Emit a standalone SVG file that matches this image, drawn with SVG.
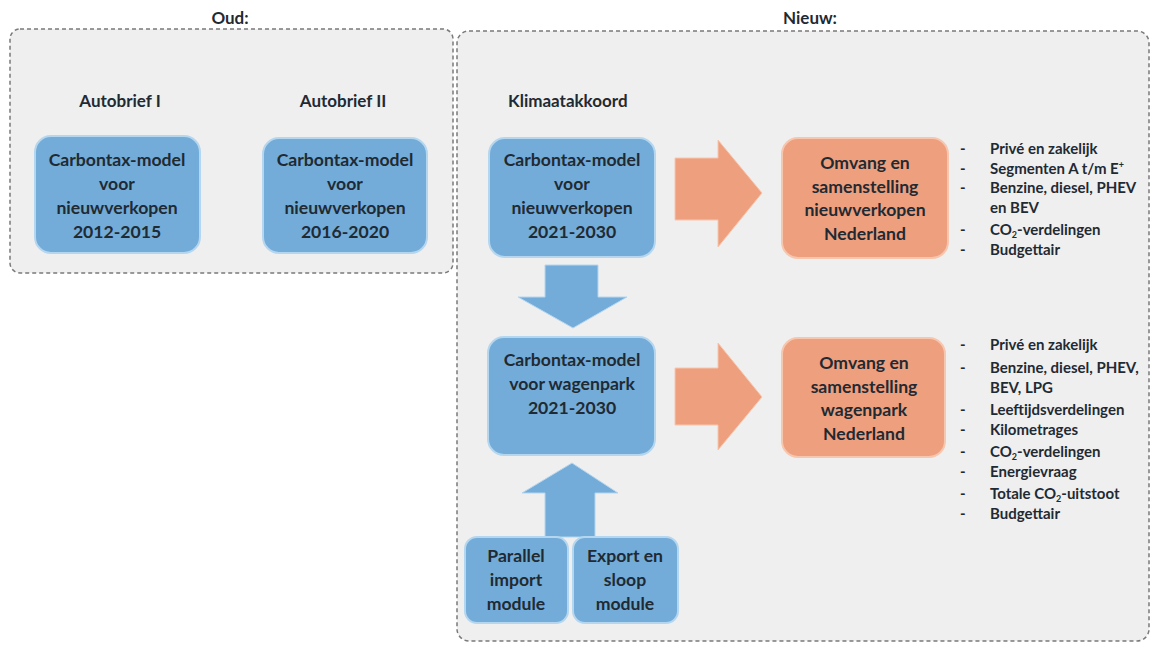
<svg xmlns="http://www.w3.org/2000/svg" width="1152" height="646" viewBox="0 0 1152 646">
<defs>
<style>
.t{font-family:Lato,"Open Sans","Liberation Sans",sans-serif;font-weight:bold;fill:#1f2a33}
.h{font-size:17px}
.n{font-size:17.6px;text-anchor:middle}
.l{font-size:15px}
.grp{fill:#efefef;stroke:#7a7a7a;stroke-width:1.5;stroke-dasharray:4 3}
.blue{fill:#73acd8;stroke:#b5d6ef;stroke-width:2}
.org{fill:#ee9f7e;stroke:#f6c6ae;stroke-width:2}
.barr{fill:#73acd8;stroke:#b5d6ef;stroke-width:1}
.oarr{fill:#ee9f7e;stroke:#f6c6ae;stroke-width:1}
</style>
</defs>
<rect width="1152" height="646" fill="#ffffff"/>

<g id="group-oud">
<rect class="grp" x="10" y="29" width="443" height="244" rx="10"/>
<text class="t h" x="230" y="24" text-anchor="middle">Oud:</text>
<text class="t h" x="120" y="107" text-anchor="middle">Autobrief I</text>
<text class="t h" x="343" y="107" text-anchor="middle">Autobrief II</text>
</g>

<g id="group-nieuw">
<rect class="grp" x="457" y="31" width="692" height="610" rx="12"/>
<text class="t h" x="810" y="24" text-anchor="middle">Nieuw:</text>
<text class="t h" x="508" y="107">Klimaatakkoord</text>
</g>

<g id="connectors">
<polygon class="barr" points="545,265 598,265 598,297 627,297 573,328 518,297 545,297"/>
<polygon class="barr" points="572,463 618,493 595,493 595,537 545,537 545,493 522,493"/>
<polygon class="oarr" points="675,158 718,158 718,140 762,193 718,247 718,220 675,220"/>
<polygon class="oarr" points="675,368 718,368 718,343 762,397 718,450 718,425 675,425"/>
</g>

<g id="node-autobrief1">
<rect class="blue" x="35" y="136" width="165" height="117" rx="16"/>
<text class="t n" x="117" y="166">Carbontax-model</text>
<text class="t n" x="117" y="190">voor</text>
<text class="t n" x="117" y="214">nieuwverkopen</text>
<text class="t n" x="117" y="238">2012-2015</text>
</g>

<g id="node-autobrief2">
<rect class="blue" x="263" y="138" width="164" height="115" rx="16"/>
<text class="t n" x="345" y="166">Carbontax-model</text>
<text class="t n" x="345" y="190">voor</text>
<text class="t n" x="345" y="214">nieuwverkopen</text>
<text class="t n" x="345" y="238">2016-2020</text>
</g>

<g id="node-nieuwverkopen">
<rect class="blue" x="489" y="138" width="166" height="119" rx="16"/>
<text class="t n" x="572" y="166">Carbontax-model</text>
<text class="t n" x="572" y="190">voor</text>
<text class="t n" x="572" y="214">nieuwverkopen</text>
<text class="t n" x="572" y="238">2021-2030</text>
</g>

<g id="node-wagenpark">
<rect class="blue" x="488" y="337" width="167" height="118" rx="16"/>
<text class="t n" x="572" y="366">Carbontax-model</text>
<text class="t n" x="572" y="390">voor wagenpark</text>
<text class="t n" x="572" y="414">2021-2030</text>
</g>

<g id="node-parallel-import">
<rect class="blue" x="465" y="537" width="103" height="86" rx="12"/>
<text class="t n" x="516" y="562">Parallel</text>
<text class="t n" x="516" y="586">import</text>
<text class="t n" x="516" y="610">module</text>
</g>

<g id="node-export-sloop">
<rect class="blue" x="573" y="537" width="105" height="86" rx="12"/>
<text class="t n" x="625" y="562">Export en</text>
<text class="t n" x="625" y="586">sloop</text>
<text class="t n" x="625" y="610">module</text>
</g>

<g id="node-omvang-nieuwverkopen">
<rect class="org" x="782" y="138" width="166" height="120" rx="16"/>
<text class="t n" x="865" y="169">Omvang en</text>
<text class="t n" x="865" y="193">samenstelling</text>
<text class="t n" x="865" y="216">nieuwverkopen</text>
<text class="t n" x="865" y="240">Nederland</text>
</g>

<g id="node-omvang-wagenpark">
<rect class="org" x="782" y="338" width="163" height="119" rx="16"/>
<text class="t n" x="864" y="369">Omvang en</text>
<text class="t n" x="864" y="393">samenstelling</text>
<text class="t n" x="864" y="416">wagenpark</text>
<text class="t n" x="864" y="440">Nederland</text>
</g>

<g id="list-nieuwverkopen">
<text class="t l" x="960" y="154">-</text><text class="t l" x="990" y="154">Privé en zakelijk</text>
<text class="t l" x="960" y="174">-</text><text class="t l" x="990" y="174">Segmenten A t/m E<tspan font-size="9" dy="-6">+</tspan></text>
<text class="t l" x="960" y="193">-</text><text class="t l" x="990" y="193">Benzine, diesel, PHEV</text>
<text class="t l" x="990" y="213">en BEV</text>
<text class="t l" x="960" y="235">-</text><text class="t l" x="990" y="235">CO<tspan font-size="9" dy="3">2</tspan><tspan dy="-3">-verdelingen</tspan></text>
<text class="t l" x="960" y="255">-</text><text class="t l" x="990" y="255">Budgettair</text>
</g>

<g id="list-wagenpark">
<text class="t l" x="960" y="350">-</text><text class="t l" x="990" y="350">Privé en zakelijk</text>
<text class="t l" x="960" y="373">-</text><text class="t l" x="990" y="373">Benzine, diesel, PHEV,</text>
<text class="t l" x="990" y="393">BEV, LPG</text>
<text class="t l" x="960" y="415">-</text><text class="t l" x="990" y="415">Leeftijdsverdelingen</text>
<text class="t l" x="960" y="435">-</text><text class="t l" x="990" y="435">Kilometrages</text>
<text class="t l" x="960" y="457">-</text><text class="t l" x="990" y="457">CO<tspan font-size="9" dy="3">2</tspan><tspan dy="-3">-verdelingen</tspan></text>
<text class="t l" x="960" y="477">-</text><text class="t l" x="990" y="477">Energievraag</text>
<text class="t l" x="960" y="499">-</text><text class="t l" x="990" y="499">Totale CO<tspan font-size="9" dy="3">2</tspan><tspan dy="-3">-uitstoot</tspan></text>
<text class="t l" x="960" y="519">-</text><text class="t l" x="990" y="519">Budgettair</text>
</g>
</svg>
